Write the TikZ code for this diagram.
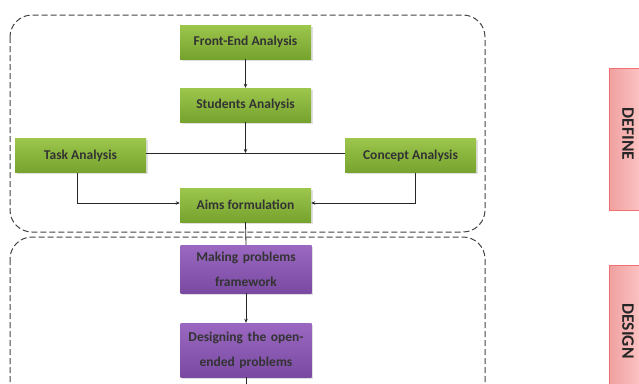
\documentclass[tikz,border=0pt]{standalone}
\usepackage{fontspec}
\setmainfont{Carlito}
\usetikzlibrary{arrows.meta,shadows}
\definecolor{gtop}{HTML}{9CC64C}
\definecolor{gbot}{HTML}{76A22E}
\definecolor{ptop}{HTML}{9A68C0}
\definecolor{pbot}{HTML}{7A4AA2}
\definecolor{pinkf}{HTML}{FFCCCC}
\definecolor{pinkd}{HTML}{F0A0A0}
\definecolor{dashc}{HTML}{444444}
\begin{document}
\begin{tikzpicture}[x=1pt,y=-1pt,
  gbox/.style={draw=none, top color=gtop, bottom color=gbot, minimum width=131pt, minimum height=34pt,
    inner sep=1pt, font=\fontsize{13.5}{14}\selectfont\bfseries, text=black!80,
    drop shadow={shadow xshift=1.5pt, shadow yshift=-1.5pt, opacity=0.25}},
  pbox/.style={gbox, top color=ptop, bottom color=pbot, align=center, text width=128pt,
    font=\fontsize{13.5}{25}\selectfont\bfseries},
  frame/.style={draw=dashc, dashed, dash pattern=on 6pt off 3pt, line width=1pt, rounded corners=22pt},
  conn/.style={draw=black!85, line width=0.8pt},
  arr/.style={conn, -{Stealth[length=4pt,width=3.5pt]}},
  lab/.style={left color=pinkd, right color=pinkf, draw=pinkd!70!red, line width=0.5pt,
    minimum width=40pt, minimum height=142pt, inner sep=0pt},
  labtext/.style={font=\fontsize{17.5}{18}\selectfont\bfseries, text=black!85, rotate=-90, inner sep=0pt}
]
\useasboundingbox (0,0) rectangle (639,383);
\clip (0,0) rectangle (639,383);
\fill[white] (0,0) rectangle (639,383);

% frames
\path[frame] (10,15) rectangle (485,232);
\path[frame] (10,237) rectangle (485,430);

% side labels
\node[lab, anchor=north west] (deflab) at (609,68) {};
\node[labtext] (deftxt) at (628,134) {DEFINE};
\node[lab, anchor=north west] (deslab) at (609,265) {};
\node[labtext] (destxt) at (628,331) {DESIGN};

% nodes
\node[gbox] (fe) at (245.5,42) {Front-End Analysis};
\node[gbox] (sa) at (245.5,105) {Students Analysis};
\node[gbox] (ta) at (80.5,155.5) {Task Analysis};
\node[gbox] (ca) at (410.5,155.5) {Concept Analysis};
\node[gbox] (af) at (245.5,205) {Aims formulation};
\node[pbox, minimum height=48pt] (mp) at (246,269) {Making problems\\framework};
\node[pbox, minimum height=54pt] (dp) at (246,350) {Designing the open-\\ended problems};

\coordinate (j) at (245.5,153);
\coordinate (tbend) at (77,203);
\coordinate (cbend) at (415,203);
\coordinate (dpout) at (246,400);

% connectors
\draw[arr] (fe) -- (sa);
\draw[arr] (sa) -- (j);
\draw[conn] (ta.east |- j) -- (ca.west |- j);
\draw[arr] (ta.south -| tbend) -- (tbend) -- (af.west |- tbend);
\draw[arr] (ca.south -| cbend) -- (cbend) -- (af.east |- cbend);
\draw[conn] (af.south) -- (mp.north);
\draw[arr] (mp) -- (dp);
\draw[conn] (dp.south) -- (dpout);
\end{tikzpicture}
\end{document}
